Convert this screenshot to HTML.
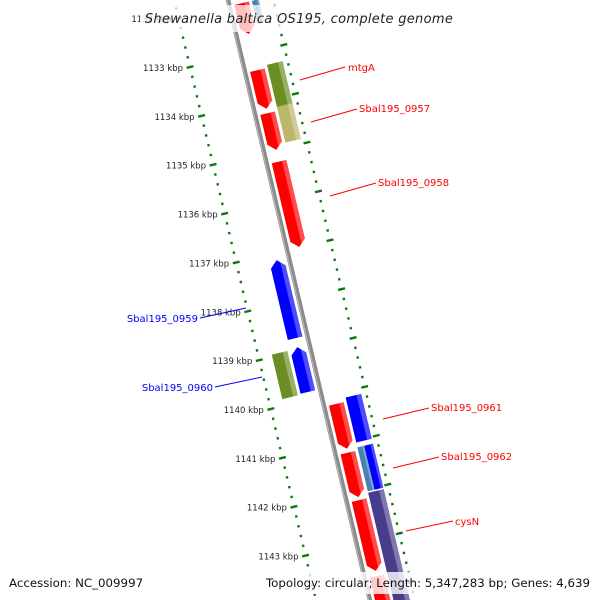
<!DOCTYPE html>
<html><head><meta charset="utf-8"><style>
html,body{margin:0;background:#fff;width:600px;height:600px;overflow:hidden;}
svg{display:block;font-family:"DejaVu Sans","Liberation Sans",sans-serif;overflow:hidden;}
</style></head><body>
<svg id="map" width="600" height="600" viewBox="0 0 600 600" xmlns="http://www.w3.org/2000/svg">
<g id="strip" transform="translate(228,0) rotate(-13.3)"></g>
<g id="labels"></g>
<rect x="140" y="5" width="320" height="27" fill="#fff" opacity="0.75"/>
<text x="299" y="23" text-anchor="middle" font-size="13" font-style="italic" fill="#222" letter-spacing="0.3">Shewanella baltica OS195, complete genome</text>
<rect x="255" y="572" width="340" height="22" fill="#fff" opacity="0.8"/>
<text x="9" y="587" font-size="11.8" fill="#111">Accession: NC_009997</text>
<text x="590" y="587" text-anchor="end" font-size="11.8" fill="#111">Topology: circular; Length: 5,347,283 bp; Genes: 4,639</text>
</svg>
<script>
const tickKbp = [1132,1133,1134,1135,1136,1137,1138,1139,1140,1141,1142,1143,1144];
const featStart = [1132.0,1132.0,1133.37,1133.31,1134.25,1134.17,1135.24,1137.14,1138.92,1138.95,1140.2,1140.12,1141.2,1141.14,1141.14,1142.17,1142.07,1143.73];
const featEnd   = [1132.63,1132.47,1134.16,1134.19,1135.0,1134.9,1136.99,1138.74,1139.84,1139.86,1141.12,1141.04,1142.11,1142.04,1142.04,1143.62,1144.82,1145.2];
const featTrack = ['ri','ro-a','ri','ro','ri','ro','ri','li','li','lo','ri','ro','ri','ro-a','ro-b','ri','ro','ri'];
const featColor = ['#ff0000','#4682b4','#ff0000','#6b8e23','#ff0000','#bdb76b','#ff0000','#0000ff','#0000ff','#6b8e23','#ff0000','#0000ff','#ff0000','#4682b4','#0000ff','#ff0000','#483d8b','#ff0000'];
const featDir   = [1,0,1,0,1,0,1,-1,-1,0,1,0,1,0,0,1,0,1];
const labelText = ['mtgA','Sbal195_0957','Sbal195_0958','Sbal195_0959','Sbal195_0960','Sbal195_0961','Sbal195_0962','cysN'];
const labelColor= ['red','red','red','blue','blue','red','red','red'];

const NS='http://www.w3.org/2000/svg';
const strip=document.getElementById('strip');
const labels=document.getElementById('labels');
const S0=56.5, PER=50.2;
function sOf(k){return S0+(k-1133)*PER;}
const th=13.3*Math.PI/180, C=Math.cos(th), Sn=Math.sin(th);
function toScreen(u,s){return [228+u*C+s*Sn, -u*Sn+s*C];}
function mk(tag,attrs,parent){const e=document.createElementNS(NS,tag);for(const k in attrs)e.setAttribute(k,attrs[k]);parent.appendChild(e);return e;}

const bb=mk('line',{x1:0,y1:-50,x2:0,y2:640,stroke:'#8a8a8a','stroke-width':4.5},strip);


mk('line',{x1:-1.2,y1:-50,x2:-1.2,y2:640,stroke:'#bbb','stroke-width':1},strip);

const kMin=1131.6,kMax=1144.6;
for(let k=Math.ceil(kMin*5)/5;k<=kMax;k+=0.2){
  const kr=Math.round(k*5)/5;
  const major=Math.abs(kr-Math.round(kr))<0.01;
  const s=sOf(kr);
  [-52.4,44].forEach(u=>{
    const t=mk('rect',major?{x:u-3.5,y:s-1.2,width:7,height:2.4,fill:'#0a7a0a'}:{x:u-1.2,y:s-1.2,width:2.4,height:2.4,fill:'#0a7a0a'},strip);
    
    
  });
}
tickKbp.forEach(k=>{
  const p=toScreen(-52.4,sOf(k));
  if(p[1]<5||p[1]>570) return;
  const t=mk('text',{x:p[0]-7,y:p[1]+4,'text-anchor':'end','font-size':8.5,fill:'#222'},labels);
  t.textContent=k+' kbp';
  
  
});

const trackU={ri:[5,20],ro:[23,39],'ro-a':[23,30],'ro-b':[30,39],li:[-20,-5],lo:[-39,-23]};
for(let i=0;i<featStart.length;i++){
  const [u0,u1]=trackU[featTrack[i]];
  const s0=sOf(featStart[i]), s1=sOf(featEnd[i]), um=(u0+u1)/2, h=7;
  let pts;
  if(featDir[i]===1) pts=[[u0,s0],[u1,s0],[u1,s1-h],[um,s1],[u0,s1-h]];
  else if(featDir[i]===-1) pts=[[um,s0],[u1,s0+h],[u1,s1],[u0,s1],[u0,s0+h]];
  else pts=[[u0,s0],[u1,s0],[u1,s1],[u0,s1]];
  const g=mk('g',{},strip);
  
  
  mk('polygon',{points:pts.map(p=>p.join(',')).join(' '),fill:featColor[i]},g);
  const w=u1-u0, a=u1-w*0.3;
  const hp=pts.map(p=>[Math.max(p[0],a),p[1]]);
  mk('polygon',{points:hp.map(p=>p.join(',')).join(' '),fill:'#fff',opacity:0.3},g);
}

const labelLine=[[300,80,345,67],[311,122,357,109],[330,196,376,183],[246,308,200,318],[262,377,215,387],[383,419,429,408],[393,468,439,457],[406,531,453,521]];
const labelPos=[[348,71,'start'],[359,112,'start'],[378,186,'start'],[198,322,'end'],[213,391,'end'],[431,411,'start'],[441,460,'start'],[455,525,'start']];
for(let i=0;i<labelText.length;i++){
  const L=labelLine[i];
  const ln=mk('line',{x1:L[0],y1:L[1],x2:L[2],y2:L[3],stroke:labelColor[i],'stroke-width':1},labels);
  
  
  const P=labelPos[i];
  const t=mk('text',{x:P[0],y:P[1],'text-anchor':P[2],'font-size':10,fill:labelColor[i]},labels);
  t.textContent=labelText[i];
  
  
}
</script>
</body></html>
